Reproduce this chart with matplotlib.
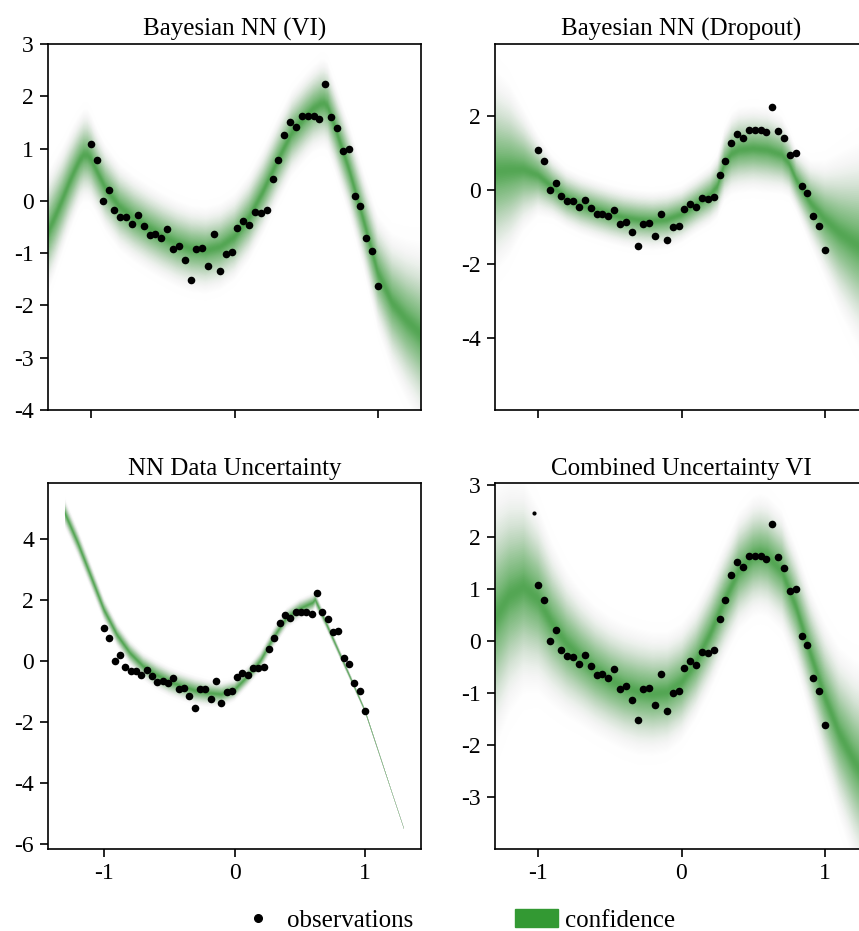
import numpy as np
import matplotlib
matplotlib.use('Agg')
import matplotlib.pyplot as plt
from matplotlib.lines import Line2D
from matplotlib.patches import Patch

plt.rcParams['font.family'] = ['Liberation Serif', 'DejaVu Serif']
plt.rcParams['axes.unicode_minus'] = False

# observations
obs_x = [-1.0, -0.959, -0.918, -0.878, -0.837, -0.796, -0.755, -0.714, -0.673, -0.633,
         -0.592, -0.551, -0.510, -0.469, -0.429, -0.388, -0.347, -0.306, -0.265, -0.224,
         -0.184, -0.143, -0.102, -0.061, -0.020, 0.020, 0.061, 0.102, 0.143, 0.184,
         0.224, 0.265, 0.306, 0.347, 0.388, 0.429, 0.469, 0.510, 0.551, 0.592,
         0.633, 0.673, 0.714, 0.755, 0.796, 0.837, 0.878, 0.918, 0.959, 1.0]
obs_y = [1.08, 0.78, 0.00, 0.20, -0.17, -0.30, -0.31, -0.45, -0.27, -0.48,
         -0.66, -0.64, -0.71, -0.54, -0.92, -0.86, -1.13, -1.52, -0.92, -0.90,
         -1.24, -0.64, -1.35, -1.01, -0.97, -0.52, -0.38, -0.46, -0.22, -0.23,
         -0.18, 0.41, 0.78, 1.26, 1.51, 1.42, 1.62, 1.62, 1.62, 1.57,
         2.24, 1.61, 1.40, 0.95, 0.99, 0.10, -0.09, -0.71, -0.96, -1.62]
extra_x = [-1.03]
extra_y = [2.45]

# Bayesian NN (VI)
vi_x = [-1.3, -1.25, -1.2, -1.15, -1.1, -1.075, -1.05, -1.025, -1.0, -0.95, -0.9, -0.8, -0.7, -0.6,
        -0.5, -0.4, -0.3, -0.2, -0.1, 0.0, 0.1, 0.2, 0.3, 0.4, 0.5, 0.55, 0.6, 0.625, 0.65,
        0.7, 0.8, 0.9, 1.0, 1.1, 1.2, 1.3]
vi_mean = [-0.60, -0.30, 0.02, 0.36, 0.66, 0.79, 0.87, 0.87, 0.80, 0.52, 0.25, -0.12, -0.34, -0.52,
           -0.68, -0.82, -0.92, -0.95, -0.88, -0.69, -0.33, 0.18, 0.76, 1.30, 1.62, 1.76, 1.85, 1.86, 1.80,
           1.42, 0.59, -0.37, -1.38, -1.95, -2.28, -2.55]
vi_std = [0.42, 0.40, 0.37, 0.35, 0.33, 0.32, 0.32, 0.32, 0.31, 0.30, 0.30, 0.30, 0.30, 0.30,
          0.30, 0.30, 0.30, 0.30, 0.30, 0.30, 0.30, 0.30, 0.30, 0.30, 0.30, 0.30, 0.31, 0.31, 0.31,
          0.31, 0.32, 0.34, 0.40, 0.48, 0.56, 0.64]

# Bayesian NN (Dropout)
do_x = [-1.3, -1.2, -1.1, -1.0, -0.9, -0.8, -0.7, -0.6, -0.5, -0.4, -0.3, -0.2, -0.1, 0.0,
        0.1, 0.2, 0.25, 0.3, 0.35, 0.4, 0.5, 0.6, 0.7, 0.75, 0.8, 0.9, 1.0, 1.1, 1.2, 1.3]
do_mean = [0.50, 0.54, 0.55, 0.40, 0.08, -0.22, -0.40, -0.53, -0.65, -0.75, -0.81, -0.84, -0.80, -0.66,
           -0.40, -0.14, 0.10, 0.70, 0.98, 1.08, 1.12, 1.08, 0.95, 0.72, 0.28, -0.35, -0.80, -1.15, -1.42, -1.65]
do_std = [1.00, 0.85, 0.60, 0.40, 0.31, 0.29, 0.29, 0.29, 0.29, 0.29, 0.29, 0.29, 0.29, 0.28,
          0.28, 0.29, 0.31, 0.36, 0.40, 0.42, 0.42, 0.42, 0.38, 0.33, 0.31, 0.42, 0.58, 0.78, 0.95, 1.10]

# NN data uncertainty
du_x = [-1.3, -1.2, -1.1, -1.0, -0.9, -0.8, -0.7, -0.6, -0.5, -0.4, -0.3, -0.2, -0.1, 0.0,
        0.1, 0.2, 0.3, 0.4, 0.5, 0.6, 0.62, 0.7, 0.8, 0.9, 1.0, 1.1, 1.2, 1.3]
du_mean = [4.86, 3.88, 2.79, 1.69, 0.87, 0.27, -0.16, -0.44, -0.66, -0.82, -0.96, -1.04, -1.08, -0.93,
           -0.50, 0.02, 0.78, 1.42, 1.72, 1.92, 2.02, 1.28, 0.32, -0.64, -1.61, -2.90, -4.20, -5.49]
du_std = [0.18, 0.17, 0.16, 0.15, 0.15, 0.16, 0.17, 0.18, 0.18, 0.18, 0.18, 0.17, 0.16, 0.14,
          0.13, 0.13, 0.13, 0.13, 0.13, 0.12, 0.11, 0.08, 0.065, 0.05, 0.035, 0.025, 0.018, 0.012]

# Combined uncertainty VI
cu_x = [-1.3, -1.2, -1.1, -1.0, -0.9, -0.8, -0.7, -0.6, -0.5, -0.4, -0.3, -0.2, -0.1, 0.0,
        0.1, 0.2, 0.3, 0.4, 0.5, 0.55, 0.6, 0.7, 0.8, 0.9, 1.0, 1.1, 1.2, 1.3]
cu_mean = [0.45, 0.86, 1.03, 0.80, 0.32, -0.06, -0.33, -0.57, -0.75, -0.89, -0.98, -1.02, -0.99, -0.80,
           -0.41, 0.13, 0.76, 1.34, 1.62, 1.66, 1.62, 1.34, 0.64, -0.25, -1.08, -1.78, -2.29, -2.70]
cu_std = [0.92, 0.82, 0.74, 0.65, 0.57, 0.51, 0.47, 0.45, 0.44, 0.44, 0.44, 0.43, 0.42, 0.41,
          0.40, 0.40, 0.40, 0.41, 0.42, 0.42, 0.42, 0.42, 0.42, 0.45, 0.52, 0.60, 0.70, 0.80]

green = '#2f962f'
legend_green = '#339933'


def gradient_band(ax, x, mean, std, peak=0.78, n=60):
    x = np.asarray(x)
    mean = np.asarray(mean)
    std = np.asarray(std)
    ks = np.linspace(3.2, 0.0, n)
    prev = 0.0
    for k in ks:
        target = peak * (0.85 * np.exp(-0.5 * k ** 2) + 0.15 * np.exp(-0.5 * (k / 0.25) ** 2))
        a = 1 - (1 - target) / (1 - prev)
        prev = target
        if a <= 0:
            continue
        ax.fill_between(x, mean - k * std, mean + k * std, color=green,
                        alpha=a, lw=0, edgecolor='none')


def style(ax):
    for s in ax.spines.values():
        s.set_linewidth(1.2)
    ax.tick_params(direction='out', length=6, width=1.2, labelsize=17, pad=4)


W, H = 859, 931
fig = plt.figure(figsize=(W / 100, H / 100), dpi=100)
axw = 373 / W
axh = 366 / H
ax1 = fig.add_axes([48 / W, (H - 410) / H, axw, axh])
ax2 = fig.add_axes([495 / W, (H - 410) / H, axw, axh])
ax3 = fig.add_axes([48 / W, (H - 849) / H, axw, axh])
ax4 = fig.add_axes([495 / W, (H - 849) / H, axw, axh])

panels = [
    (ax1, vi_x, vi_mean, vi_std, 'Bayesian NN (VI)', (-1.3, 1.3), (-4, 3), [-4, -3, -2, -1, 0, 1, 2, 3]),
    (ax2, do_x, do_mean, do_std, 'Bayesian NN (Dropout)', (-1.3, 1.3), (-5.95, 3.95), [-4, -2, 0, 2]),
    (ax3, du_x, du_mean, du_std, 'NN Data Uncertainty', (-1.43, 1.43), (-6.15, 5.85), [-6, -4, -2, 0, 2, 4]),
    (ax4, cu_x, cu_mean, cu_std, 'Combined Uncertainty VI', (-1.3, 1.3), (-4, 3.03), [-3, -2, -1, 0, 1, 2, 3]),
]

for ax, bx, bm, bs, title, xl, yl, yt in panels:
    gradient_band(ax, bx, bm, bs)
    ax.scatter(obs_x, obs_y, s=30, color='black', zorder=5, lw=0)
    ax.set_xlim(xl)
    ax.set_ylim(yl)
    ax.set_yticks(yt)
    ax.set_xticks([-1, 0, 1])
    ax.set_title(title, fontsize=18, pad=6)
    style(ax)

ax4.scatter(extra_x, extra_y, s=9, color='black', zorder=5, lw=0)

ax1.set_xticklabels([])
ax2.set_xticklabels([])

handles = [Line2D([], [], marker='o', color='black', linestyle='none', markersize=5.5),
           Patch(color=legend_green)]
fig.legend(handles, ['observations', 'confidence'], loc='lower center',
           bbox_to_anchor=(0.531, -0.025), ncol=2, frameon=False, fontsize=18,
           columnspacing=4.1, handletextpad=0.3, handlelength=1.7)

fig.savefig('out.png', dpi=100)
